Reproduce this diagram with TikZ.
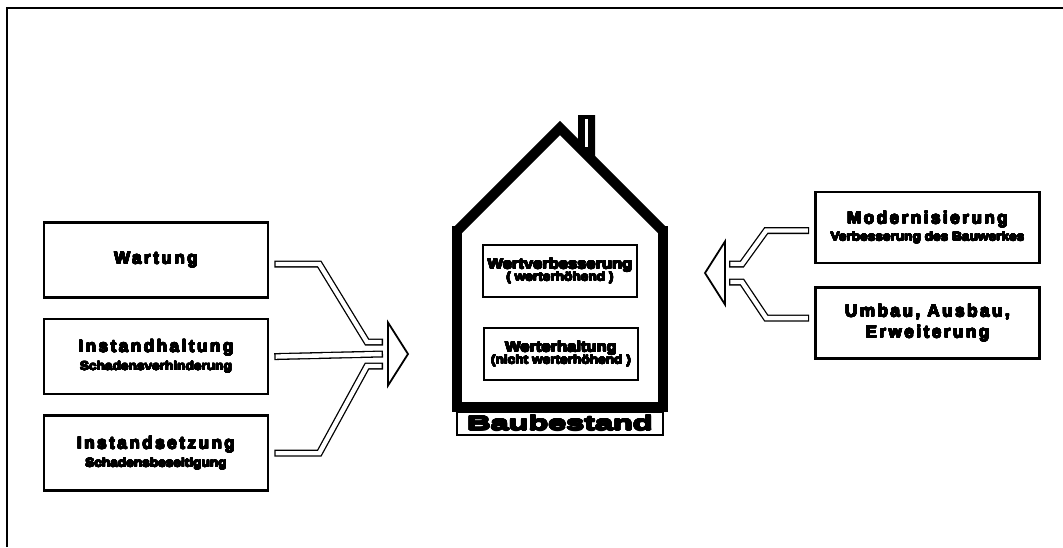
\documentclass[tikz,border=0pt]{standalone}
\usepackage{fontspec}
\usepackage[copies]{contour}
\setmainfont{Liberation Sans}
\newfontfamily\heavy{Liberation Sans Bold}
\usetikzlibrary{shapes.geometric, positioning, calc}
\contournumber{24}
\newcommand{\fat}[1]{\contourlength{0.45pt}\contour{black}{#1}}
\newcommand{\tasklabel}{\heavy\fontsize{17}{21}\selectfont\addfontfeatures{LetterSpace=15}}
\newcommand{\valuelabel}{\heavy\fontsize{14.5}{15}\selectfont\addfontfeatures{FakeStretch=1.14}}
\newcommand{\subtext}[1]{{\heavy\fontsize{12}{14}\selectfont\addfontfeatures{FakeStretch=1.14}\contourlength{0.35pt}\contour{black}{#1}}}
\tikzset{
  taskbox/.style={rectangle, draw, line width=2.6pt, fill=white, minimum width=224pt, minimum height=75pt, align=center, inner sep=0pt, font=\tasklabel},
  valuebox/.style={rectangle, draw, line width=1.4pt, minimum width=154pt, minimum height=52pt, align=center, inner sep=0pt, font=\valuelabel},
  stockbox/.style={rectangle, draw, line width=1.4pt, minimum width=206pt, minimum height=23pt, inner sep=0pt, font=\heavy\fontsize{20}{20}\selectfont\addfontfeatures{FakeStretch=1.62}},
  funnel/.style={isosceles triangle, isosceles triangle stretches, draw, line width=1.8pt, fill=white, minimum width=63pt, minimum height=20pt, inner sep=0pt, outer sep=0pt},
  pipe/.style={line width=4.4pt, draw=white, line join=miter, shorten <=1.3pt, shorten >=1.3pt,
    preaction={draw=black, line width=7pt, shorten <=0pt, shorten >=0pt}},
  wall/.style={line width=10pt, line join=miter},
  frame/.style={line width=1.2pt},
}
\begin{document}
\begin{tikzpicture}[x=1pt, y=-1pt, node distance=19pt]
  \useasboundingbox (0,0) rectangle (1063,547);
  \draw[frame] (7,547) -- (7,8) -- (1063,8);
  % left: keeping the value
  \node[taskbox] (wartung) at (156,260) {\fat{Wartung}};
  \node[taskbox, below=of wartung] (instandhaltung) {\fat{Instandhaltung}\\[-3pt]\subtext{Schadensverhinderung}};
  \node[taskbox, below=of instandhaltung] (instandsetzung) {\fat{Instandsetzung}\\[-3pt]\subtext{Schadensbeseitigung}};
  \node[funnel, anchor=west] (funnelL) at (388,354) {};
  % right: raising the value
  \node[taskbox, minimum height=71pt] (modern) at (927.5,227.5) {\fat{Modernisierung}\\[-4pt]\subtext{Verbesserung des Bauwerkes}};
  \node[taskbox, minimum height=71pt, below=22pt of modern] (umbau) {\fat{Umbau, Ausbau,}\\\fat{Erweiterung}};
  \node[funnel, shape border rotate=180, anchor=east] (funnelR) at (725,273) {};
  % house
  \draw[wall] (457,231) -- (560,128) -- (663,231);
  \draw[wall] (457,226) -- (457,407) -- (663,407) -- (663,226);
  \fill (578,146) -- (578,115) -- (595,115) -- (595,163) -- cycle;
  \draw[white, line width=3pt] (586.5,119) -- (586.5,147);
  \node[valuebox] (wertverb) at (560,271) {\fat{Wertverbesserung}\\[-3pt]\subtext{( werterhöhend )}};
  \node[valuebox] (werterh) at (561,354) {\fat{Werterhaltung}\\[-3pt]\subtext{(nicht werterhöhend )}};
  \node[stockbox] (bestand) at (560,423.5) {\contourlength{0.7pt}\contour{black}{Baubestand}};
  % pipes
  \draw[pipe] ($(wartung.east)+(5,4)$) -- ++(45,0) -- ($(funnelL.west)+(-21,-12)$) -- ($(funnelL.west)+(-5,-12)$);
  \draw[pipe] ($(instandhaltung.east)+(5,0)$) -- ($(funnelL.west)+(-5,0)$);
  \draw[pipe] ($(instandsetzung.east)+(5,0)$) -- ++(45,0) -- ($(funnelL.west)+(-21,12)$) -- ($(funnelL.west)+(-5,12)$);
  \draw[pipe] ($(modern.west)+(-5,3)$) -- ++(-43,0) -- ($(funnelR.east)+(17,-9)$) -- ($(funnelR.east)+(4,-9)$);
  \draw[pipe] ($(umbau.west)+(-5,-5)$) -- ++(-43,0) -- ($(funnelR.east)+(17,9)$) -- ($(funnelR.east)+(4,9)$);
\end{tikzpicture}
\end{document}
